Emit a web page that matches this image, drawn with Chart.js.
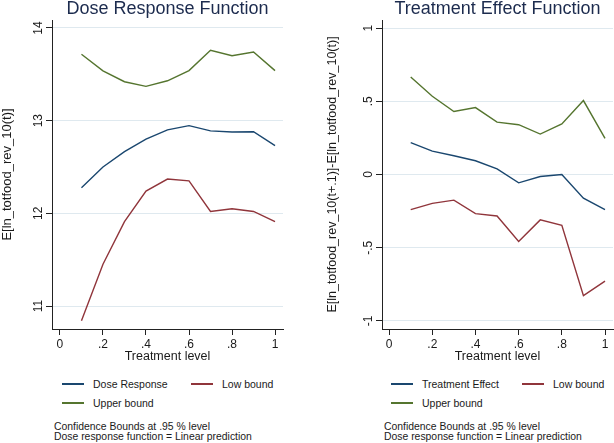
<!DOCTYPE html>
<html lang="en">
<head>
<meta charset="UTF-8">
<title>Dose Response Function</title>
<style>
  body { margin:0; background:#fff; }
  #wrap { position:relative; width:614px; height:443px; overflow:hidden; background:#fff;
          font-family:"Liberation Sans", Arial, sans-serif; color:#1a1a1a; }
  #wrap canvas { position:absolute; top:0; }
  .leg { position:absolute; height:14px; line-height:14px; font-size:10.5px; white-space:nowrap; padding-left:31px; }
  .leg i { position:absolute; left:0; top:6px; width:22px; height:1.5px; }
  .note { position:absolute; font-size:10.4px; line-height:10px; white-space:nowrap; }
</style>
</head>
<body>
<div id="wrap">
    <canvas id="doseChart" width="307" height="370" style="left:0"></canvas>
    <canvas id="effChart" width="294" height="370" style="left:320px"></canvas>
</div>

<script src="https://cdn.jsdelivr.net/npm/chart.js@4/dist/chart.umd.min.js"></script>
<script>
// treatment levels (x)
var tLevels = [.1, .2, .3, .4, .5, .6, .7, .8, .9, 1];

// dose response panel
var doseResp = [12.275, 12.50, 12.666, 12.80, 12.90, 12.946, 12.89, 12.877, 12.88, 12.73];
var doseLow  = [10.84, 11.45, 11.91, 12.24, 12.37, 12.35, 12.02, 12.05, 12.02, 11.91];
var doseUp   = [13.717, 13.538, 13.42, 13.37, 13.43, 13.54, 13.76, 13.70, 13.74, 13.54];

// treatment effect panel
var effect = [0.217, 0.16, 0.128, 0.094, 0.039, -0.057, -0.014, 0.0, -0.162, -0.24];
var effLow = [-0.24, -0.197, -0.175, -0.267, -0.283, -0.457, -0.31, -0.347, -0.827, -0.728];
var effUp  = [0.666, 0.534, 0.43, 0.457, 0.358, 0.34, 0.276, 0.345, 0.505, 0.247];

// ticks
var xTicks = [0, .2, .4, .6, .8, 1];
var doseTicks = [11, 12, 13, 14];
var effTicks = [-1, -.5, 0, .5, 1];

var noteLines = ['Confidence Bounds at .95 % level', 'Dose response function = Linear prediction'];

var C_BLUE = '#1a476f', C_RED = '#90353b', C_GREEN = '#55752f';
var seriesColors = [C_BLUE, C_RED, C_GREEN];
var FONT = '"Liberation Sans", Arial, sans-serif';

// stata style numbers: .5, -.5
function f_stata(v){
    return String(v).replace(/^0\./, '.').replace(/^-0\./, '-.');
}
function f_pts(ys){
    return tLevels.map(function(x, i){ return {x: x, y: ys[i]}; });
}
function f_ds(label, ys, color){
    return { label: label, data: f_pts(ys), borderColor: color, backgroundColor: color,
             borderWidth: 1.4, pointRadius: 0, tension: 0, fill: false };
}

// vertical tick labels on the y axis
var yRotPlugin = {
    id: 'yRot',
    afterDraw: function(chart, args, opts){
        var s = chart.scales.y, c = chart.ctx;
        c.save();
        c.font = '12px ' + FONT;
        c.fillStyle = '#1a1a1a';
        c.textAlign = 'center';
        c.textBaseline = 'alphabetic';
        s.ticks.forEach(function(t){
            c.save();
            c.translate(opts.x, s.getPixelForValue(t.value));
            c.rotate(-Math.PI / 2);
            c.fillText(f_stata(t.value), 0, 0);
            c.restore();
        });
        c.restore();
    }
};

function f_chart(id, p){
    return new Chart(document.getElementById(id), {
        type: 'line',
        data: { datasets: p.datasets },
        options: {
            responsive: false,
            animation: false,
            layout: { padding: { left: 0, right: p.padRight, top: 0, bottom: 0 } },
            plugins: {
                legend: { display: false },
                tooltip: { enabled: false },
                title: { display: true, text: p.title, color: '#1c2b4e', fullSize: false,
                         font: { family: FONT, size: 18, weight: 'normal', lineHeight: 1 },
                         padding: { top: 0, bottom: 2 } },
                yRot: { x: p.tickX }
            },
            scales: {
                x: {
                    type: 'linear', min: p.xMin, max: 1.037,
                    afterBuildTicks: function(s){ s.ticks = xTicks.map(function(v){ return {value: v}; }); },
                    afterFit: function(s){ s.height = 41; },
                    grid: { drawOnChartArea: false, tickLength: 6, tickColor: '#222' },
                    border: { color: '#222', width: 1 },
                    ticks: { color: '#1a1a1a', padding: 2, maxRotation: 0, font: { family: FONT, size: 12 },
                             callback: function(v){ return f_stata(v); } },
                    title: { display: true, text: 'Treatment level', color: '#1a1a1a',
                             font: { family: FONT, size: 12.5, lineHeight: 1.2 }, padding: { top: 0, bottom: 6 } }
                },
                y: {
                    min: p.yMin, max: p.yMax,
                    afterBuildTicks: function(s){ s.ticks = p.yTicks.map(function(v){ return {value: v}; }); },
                    afterFit: function(s){ s.width = p.yWidth; },
                    grid: { color: '#dfe9ef', lineWidth: 1, tickLength: 6, tickColor: '#222' },
                    border: { color: '#222', width: 1 },
                    ticks: { display: false },
                    title: { display: true, text: p.yTitle, color: '#1a1a1a',
                             font: { family: FONT, size: p.yTitleSize, lineHeight: 1.1 }, padding: { top: p.yTitlePad, bottom: 0 } }
                }
            }
        },
        plugins: [yRotPlugin]
    });
}

var doseChart = f_chart('doseChart', {
    title: 'Dose Response Function',
    datasets: [f_ds('Dose Response', doseResp, C_BLUE), f_ds('Low bound', doseLow, C_RED), f_ds('Upper bound', doseUp, C_GREEN)],
    xMin: -0.037, yMin: 10.752, yMax: 14.086, yTicks: doseTicks,
    yWidth: 52, padRight: 24, tickX: 42,
    yTitle: 'E[ln_totfood_rev_10(t)]', yTitleSize: 13, yTitlePad: 0
});

var effChart = f_chart('effChart', {
    title: 'Treatment Effect Function',
    datasets: [f_ds('Treatment Effect', effect, C_BLUE), f_ds('Low bound', effLow, C_RED), f_ds('Upper bound', effUp, C_GREEN)],
    xMin: -0.033, yMin: -1.055, yMax: 1.055, yTicks: effTicks,
    yWidth: 62, padRight: 1, tickX: 52,
    yTitle: 'E[ln_totfood_rev_10(t+.1)]-E[ln_totfood_rev_10(t)]', yTitleSize: 12.5, yTitlePad: 6
});

// legend (two columns, stata style) and notes below each panel
function f_legend(chart, x1, x2, noteX){
    var wrap = document.getElementById('wrap');
    var pos = [[x1, 384], [x2, 384], [x1, 403]];
    chart.data.datasets.forEach(function(ds, i){
        var d = document.createElement('div');
        d.className = 'leg';
        d.style.left = pos[i][0] + 'px';
        d.style.top = (pos[i][1] - 7) + 'px';
        var ln = document.createElement('i');
        ln.style.background = seriesColors[i];
        d.appendChild(ln);
        d.appendChild(document.createTextNode(ds.label));
        wrap.appendChild(d);
    });
    noteLines.forEach(function(t, i){
        var n = document.createElement('div');
        n.className = 'note';
        n.style.left = noteX + 'px';
        n.style.top = (422 + i * 10) + 'px';
        n.textContent = t;
        wrap.appendChild(n);
    });
}
f_legend(doseChart, 62, 191, 54);
f_legend(effChart, 391, 522, 384);
</script>
</body>
</html>
